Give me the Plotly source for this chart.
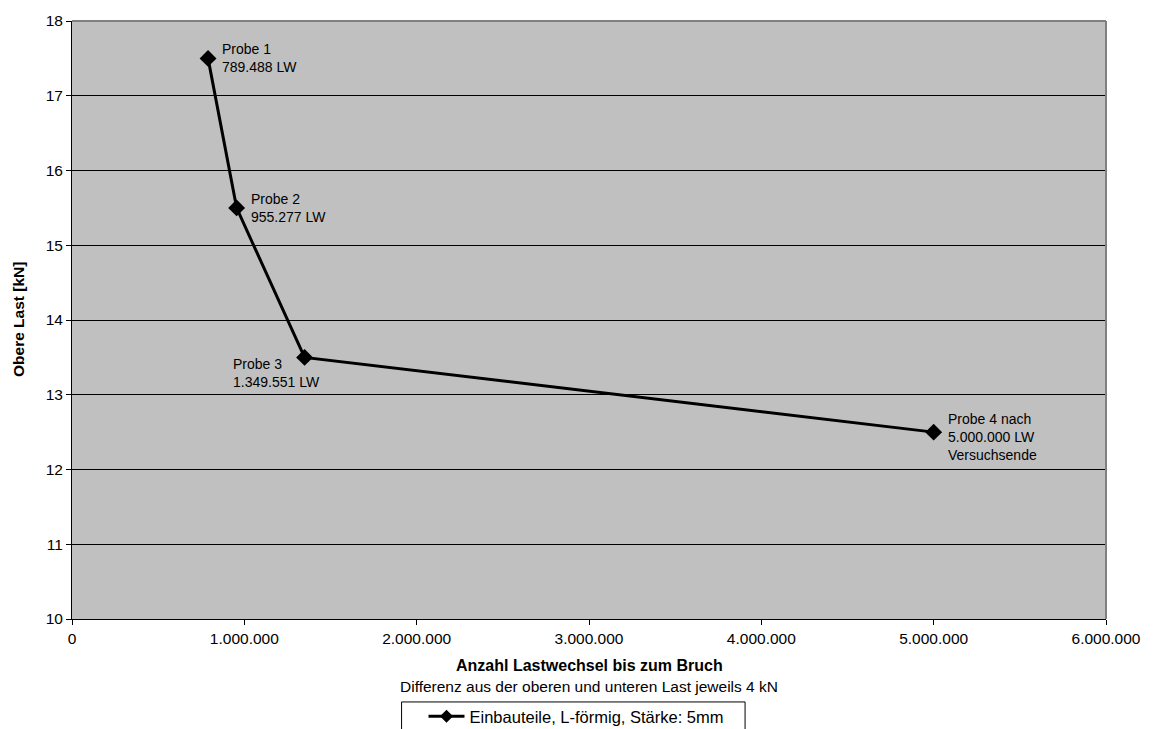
import plotly.graph_objects as go

# Dauerschwingversuch: Lastwechsel bis zum Bruch je Probe
cycles = [789488, 955277, 1349551, 5000000]
upper_load = [17.5, 15.5, 13.5, 12.5]
point_labels = [
    "Probe 1<br>789.488 LW",
    "Probe 2<br>955.277 LW",
    "Probe 3<br>1.349.551 LW",
    "Probe 4 nach<br>5.000.000 LW<br>Versuchsende",
]
series_name = "Einbauteile, L-förmig, Stärke: 5mm"

x_tickvals = [0, 1000000, 2000000, 3000000, 4000000, 5000000, 6000000]
x_ticktext = ["0", "1.000.000", "2.000.000", "3.000.000", "4.000.000", "5.000.000", "6.000.000"]
y_tickvals = [10, 11, 12, 13, 14, 15, 16, 17, 18]

FONT = "Arial, Liberation Sans, sans-serif"
W, H = 1153, 729
PLOT_L, PLOT_R, PLOT_T, PLOT_B = 72, 1110.5, 17.5, 619.5


def px_to_paper(px, py):
    return ((px - PLOT_L) / (PLOT_R - PLOT_L), (PLOT_B - py) / (PLOT_B - PLOT_T))


fig = go.Figure()
fig.add_trace(go.Scatter(
    x=cycles, y=upper_load, mode="lines+markers", name=series_name,
    line=dict(color="black", width=3),
    marker=dict(symbol="diamond", size=13, color="black"),
    showlegend=False,
))
# legend entry with a smaller symbol than the plotted markers
fig.add_trace(go.Scatter(
    x=[None], y=[None], mode="lines+markers", name=series_name,
    line=dict(color="black", width=3),
    marker=dict(symbol="diamond", size=10, color="black"),
    showlegend=True,
))

# Label placement per point: (xanchor, yanchor, xshift, yshift)
placements = [
    ("left", "middle", 12, 0),
    ("left", "middle", 12, 0),
    ("left", "top", -74, 3),
    ("left", "middle", 12, -5),
]
annotations = []
for xv, yv, txt, (xa, ya, xs, ys) in zip(cycles, upper_load, point_labels, placements):
    annotations.append(dict(
        x=xv, y=yv, xref="x", yref="y", text=txt, showarrow=False,
        xanchor=xa, yanchor=ya, xshift=xs, yshift=ys, align="left",
        font=dict(family=FONT, size=14, color="black"),
    ))

annotations += [
    dict(x=0.5, y=0, xref="paper", yref="paper", yanchor="middle", yshift=-46.5,
         text="<b>Anzahl Lastwechsel bis zum Bruch</b>", showarrow=False,
         font=dict(family=FONT, size=16, color="black")),
    dict(x=0.5, y=0, xref="paper", yref="paper", yanchor="middle", yshift=-67,
         text="Differenz aus der oberen und unteren Last jeweils 4 kN", showarrow=False,
         font=dict(family=FONT, size=15.5, color="black")),
    dict(x=0, y=0.5, xref="paper", yref="paper", xanchor="center", xshift=-54,
         text="<b>Obere Last [kN]</b>", textangle=-90, showarrow=False,
         font=dict(family=FONT, size=15.5, color="black")),
]

# Legend frame drawn separately so it can be wider than the legend content
lx0, ly0 = px_to_paper(403, 745)
lx1, ly1 = px_to_paper(748, 703)

fig.update_layout(
    width=W, height=H,
    margin=dict(l=PLOT_L, r=W - PLOT_R, t=PLOT_T, b=H - PLOT_B),
    paper_bgcolor="white", plot_bgcolor="#C0C0C0",
    font=dict(family=FONT, size=15.5, color="black"),
    annotations=annotations,
    shapes=[
        # grey frame on the top and right of the plot area
        dict(type="line", xref="paper", yref="paper", x0=0, x1=1, y0=1, y1=1,
             line=dict(color="#808080", width=2), layer="above"),
        dict(type="line", xref="paper", yref="paper", x0=1, x1=1, y0=0, y1=1,
             line=dict(color="#808080", width=2), layer="above"),
        dict(type="rect", xref="paper", yref="paper", x0=lx0, x1=lx1, y0=ly0, y1=ly1,
             line=dict(color="black", width=1), fillcolor="white", layer="below"),
    ],
    legend=dict(
        xref="container", yref="container", x=0.5, y=1 - 699 / H,
        xanchor="center", yanchor="top", orientation="h",
        borderwidth=0, bgcolor="rgba(0,0,0,0)",
        font=dict(family=FONT, size=16.5, color="black"),
        itemwidth=36,
    ),
)

fig.update_xaxes(
    range=[0, 6000000], tickvals=x_tickvals, ticktext=x_ticktext,
    showgrid=False, zeroline=False,
    showline=True, linecolor="black", linewidth=1,
    ticks="outside", ticklen=5, tickcolor="black",
)
fig.update_yaxes(
    range=[10, 18], tickvals=y_tickvals,
    showgrid=True, gridcolor="black", gridwidth=1, zeroline=False,
    showline=True, linecolor="black", linewidth=1,
    ticks="outside", ticklen=5, tickcolor="black",
)

fig.write_html("out.html")
